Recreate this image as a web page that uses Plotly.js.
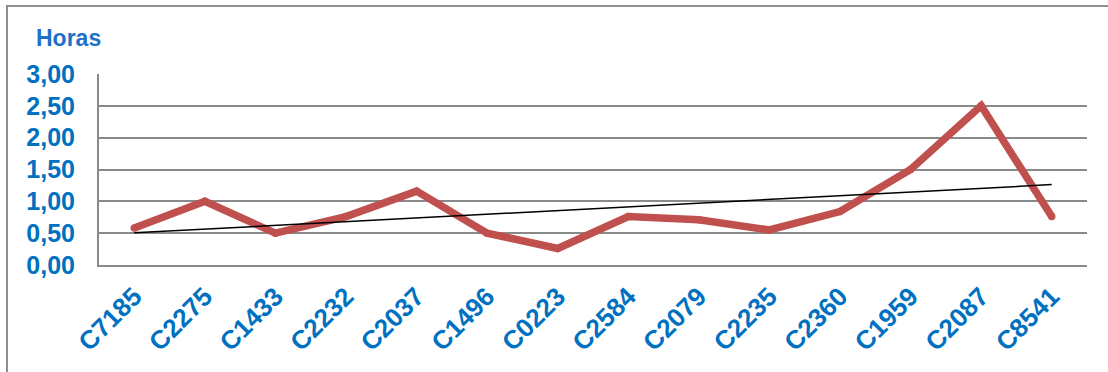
<!DOCTYPE html>
<html>
<head>
<meta charset="utf-8">
<script src="https://cdn.plot.ly/plotly-3.0.1.min.js"></script>
<style>
  html, body { margin: 0; padding: 0; background: #fff; width: 1108px; height: 372px; overflow: hidden; }
  #chart { position: absolute; left: 0; top: 0; width: 1108px; height: 372px; }
  #frame { position: absolute; left: 6px; top: 5px; width: 1200px; height: 500px;
           border-left: 2px solid #8f8f8f; border-top: 2px solid #8f8f8f; pointer-events: none; }
</style>
</head>
<body>
<div id="chart"></div>
<div id="frame"></div>
<script>
const categories = ["C7185","C2275","C1433","C2232","C2037","C1496","C0223","C2584","C2079","C2235","C2360","C1959","C2087","C8541"];
const horas = [0.58, 1.00, 0.50, 0.76, 1.16, 0.50, 0.26, 0.76, 0.71, 0.55, 0.84, 1.50, 2.50, 0.76];
const yTicks = [0, 0.5, 1, 1.5, 2, 2.5, 3];
const axisTitle = "Horas";

// Linear trendline (least squares) over the category index, as in the spreadsheet chart
const n = horas.length;
const idx = horas.map((_, i) => i + 1);
const mx = idx.reduce((a, b) => a + b, 0) / n;
const my = horas.reduce((a, b) => a + b, 0) / n;
let sxy = 0, sxx = 0;
for (let i = 0; i < n; i++) { sxy += (idx[i] - mx) * (horas[i] - my); sxx += (idx[i] - mx) ** 2; }
const slope = sxy / sxx;
const intercept = my - slope * mx;
const trend = idx.map(x => intercept + slope * x);

const blue = "#0070C0";
const fontFam = "Liberation Sans, Arial, sans-serif";

const data = [
  {
    x: categories, y: horas, type: "scatter", mode: "lines+markers",
    line: { color: "#C0504D", width: 7.5 },
    marker: { color: "#C0504D", size: 7.5 },
    hoverinfo: "skip", showlegend: false
  },
  {
    x: categories, y: trend, type: "scatter", mode: "lines",
    line: { color: "#000000", width: 1.5 },
    hoverinfo: "skip", showlegend: false
  }
];

const layout = {
  width: 1108, height: 372,
  margin: { l: 99, r: 21, t: 74, b: 107 },
  paper_bgcolor: "#ffffff", plot_bgcolor: "#ffffff",
  separators: ",.",
  showlegend: false,
  xaxis: {
    type: "category",
    range: [-0.5, categories.length - 0.5],
    showgrid: false, zeroline: false,
    showline: true, linecolor: "#8a8a8a", linewidth: 2,
    ticks: "", tickangle: -45,
    ticklabelstandoff: 4,
    tickfont: { family: fontFam, size: 26, color: blue, weight: "bold" }
  },
  yaxis: {
    range: [0, 3], tickvals: yTicks, tickformat: ".2f",
    showgrid: true, gridcolor: "#8a8a8a", gridwidth: 2,
    zeroline: false,
    showline: true, linecolor: "#8a8a8a", linewidth: 2,
    ticks: "", ticklabelstandoff: 17,
    tickfont: { family: fontFam, size: 25, color: blue, weight: "bold" }
  },
  annotations: [
    {
      text: axisTitle, xref: "paper", yref: "paper",
      x: -0.066, y: 1.19, xanchor: "left", yanchor: "middle",
      showarrow: false,
      font: { family: fontFam, size: 23, color: "#1F70C8", weight: "bold" }
    }
  ]
};

Plotly.newPlot("chart", data, layout, { staticPlot: true, displayModeBar: false });
</script>
</body>
</html>
